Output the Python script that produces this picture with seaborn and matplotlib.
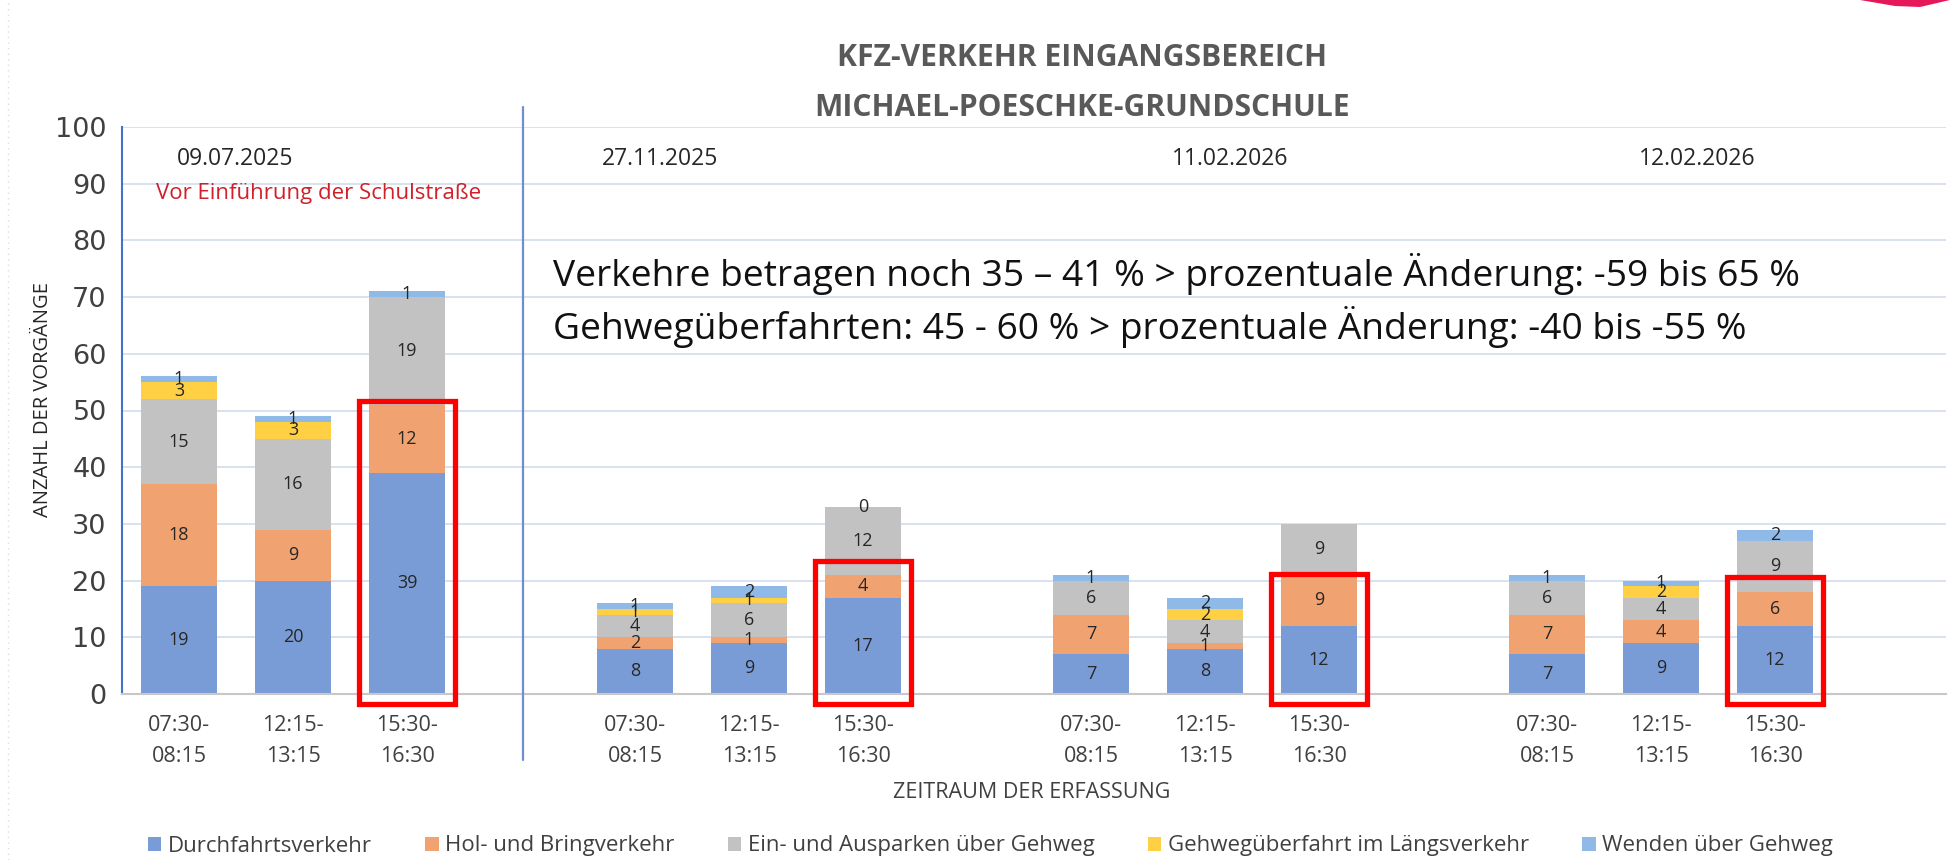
import numpy as np
import pandas as pd
import seaborn as sns
import matplotlib
matplotlib.use("Agg")
import matplotlib.pyplot as plt
from matplotlib.patches import Rectangle, Patch, Polygon
from matplotlib.lines import Line2D

# ---------------- data ----------------
dates = ["09.07.2025", "27.11.2025", "11.02.2026", "12.02.2026"]
time_slots = ["07:30-\n08:15", "12:15-\n13:15", "15:30-\n16:30"]
series_names = ["Durchfahrtsverkehr", "Hol- und Bringverkehr",
                "Ein- und Ausparken über Gehweg",
                "Gehwegüberfahrt im Längsverkehr", "Wenden über Gehweg"]
durchfahrt = [19, 20, 39, 8, 9, 17, 7, 8, 12, 7, 9, 12]
hol_bring = [18, 9, 12, 2, 1, 4, 7, 1, 9, 7, 4, 6]
ein_aus = [15, 16, 19, 4, 6, 12, 6, 4, 9, 6, 4, 9]
gehweg_laengs = [3, 3, 0, 1, 1, 0, 0, 2, 0, 0, 2, 0]
wenden = [1, 1, 1, 1, 2, 0, 1, 2, 0, 1, 1, 2]
series_colors = ["#7A9CD6", "#F1A271", "#C2C2C2", "#FFD044", "#8FB9E6"]
highlight_tops = [51.7, 23.5, 21.1, 20.7]   # red frames round the 15:30 bars
shown_zero_labels = [(5, 4)]                # (bar, series) zero labels that are drawn
title_lines = ["KFZ-VERKEHR EINGANGSBEREICH", "MICHAEL-POESCHKE-GRUNDSCHULE"]
note_lines = ["Verkehre betragen noch 35 – 41 % > prozentuale Änderung: -59 bis 65 %",
              "Gehwegüberfahrten: 45 - 60 % > prozentuale Änderung: -40 bis -55 %"]
before_note = "Vor Einführung der Schulstraße"
y_label = "ANZAHL DER VORGÄNGE"
x_label = "ZEITRAUM DER ERFASSUNG"

# ---------------- style ----------------
sns.set_theme(style="white")
plt.rcParams['font.family'] = ['Open Sans', 'DejaVu Sans']
TXT = "#404040"

series = [durchfahrt, hol_bring, ein_aus, gehweg_laengs, wenden]
n_groups, n_slots = len(dates), len(time_slots)
positions = [g * (n_slots + 1) + s for g in range(n_groups) for s in range(n_slots)]
values = np.array(series, dtype=float)
cums = np.cumsum(values, axis=0)

fig = plt.figure(figsize=(19.5, 8.6), dpi=100)
ax = fig.add_axes([122 / 1950, 1 - 694 / 860, (1946 - 122) / 1950, 567 / 860])

bar_w = 0.66
for k in reversed(range(len(series))):
    df = pd.DataFrame({"pos": positions, "val": cums[k]})
    sns.barplot(data=df, x="pos", y="val", native_scale=True, color=series_colors[k],
                saturation=1, width=bar_w, errorbar=None, linewidth=0, ax=ax)

# value labels
for i, p in enumerate(positions):
    for k in range(len(series)):
        v = values[k, i]
        if v > 0 or (i, k) in shown_zero_labels:
            yc = cums[k, i] - v / 2
            ax.text(p, yc, f"{int(v)}", ha="center", va="center", fontsize=13,
                    color="#262626", zorder=5)

# red highlight frames
for g, top in enumerate(highlight_tops):
    p = g * (n_slots + 1) + 2
    rect = Rectangle((p - 0.42, -1.8), 0.84, top + 1.8, fill=False, edgecolor="#FF0000",
                     linewidth=3.8, clip_on=False, zorder=6)
    ax.add_patch(rect)

# axes styling
ax.set_xlim(-0.5, 15.5)
ax.set_ylim(0, 100)
ax.set_yticks(np.arange(0, 101, 10))
ax.set_xticks(positions)
ax.set_xticklabels(time_slots * n_groups, fontsize=15.5, color=TXT, linespacing=1.65)
ax.tick_params(axis="x", length=0, pad=15)
ax.tick_params(axis="y", direction="out", length=7, width=1.5, color="#4472C4",
               pad=4, labelsize=19.5, labelcolor=TXT)
for lab in ax.get_yticklabels():
    lab.set_fontfamily("DejaVu Sans")
ax.yaxis.grid(True, color="#D7DFEE", linewidth=1.3)
ax.set_axisbelow(True)
for s in ["top", "right"]:
    ax.spines[s].set_visible(False)
ax.spines["left"].set_color("#4472C4")
ax.spines["left"].set_linewidth(1.5)
ax.spines["bottom"].set_color("#C8C8C8")
ax.spines["bottom"].set_linewidth(1.5)
ax.set_xlabel("")
ax.set_ylabel(y_label, fontsize=14.5, color="#262626")
ax.yaxis.set_label_coords(-0.038, 0.52)

# vertical separator
ax.add_line(Line2D([3.02, 3.02], [103.5, -11.7], color="#6F8FCB", linewidth=1.6,
                   clip_on=False, zorder=4))

# date labels and notes
date_x = [0.49, 4.22, 9.22, 13.32]
for dx, d in zip(date_x, dates):
    ax.text(dx, 94.3, d, ha="center", va="center", fontsize=16.5, color="#262626")
ax.text(-0.2, 88.3, before_note, ha="left", va="center", fontsize=16, color="#D0202A")
ax.text(3.28, 74, note_lines[0], ha="left", va="center", fontsize=26.7, color="#111111")
ax.text(3.28, 64.8, note_lines[1], ha="left", va="center", fontsize=26.7, color="#111111")

# title
fig.text(1082 / 1950, 1 - 58 / 860, title_lines[0], ha="center", va="center",
         fontsize=21.6, fontweight="bold", color="#595959")
fig.text(1082 / 1950, 1 - 108 / 860, title_lines[1], ha="center", va="center",
         fontsize=21.6, fontweight="bold", color="#595959")
fig.text(1032 / 1950, 1 - 792 / 860, x_label, ha="center", va="center",
         fontsize=15.5, color=TXT)

# legend
handles = [Patch(facecolor=c, edgecolor="none") for c in series_colors]
fig.legend(handles, series_names, loc="center", bbox_to_anchor=(0.508, 1 - 846 / 860),
           ncol=5, frameon=False, fontsize=16, handlelength=0.6, handleheight=0.6,
           handletextpad=0.3, columnspacing=2.4, labelcolor=TXT)

# decorative page elements
fig.add_artist(Polygon([[1860 / 1950, 1.0], [1950 / 1950, 1.0], [1920 / 1950, 1 - 7 / 860],
                        [1895 / 1950, 1 - 6 / 860]], closed=True, transform=fig.transFigure,
                       facecolor="#E5195A", edgecolor="none"))
fig.add_artist(Line2D([8 / 1950, 8 / 1950], [0, 1], transform=fig.transFigure,
                      color="#DDDDDD", linewidth=1, linestyle=(0, (1, 3))))

fig.savefig("out.png", dpi=100, facecolor="white")
